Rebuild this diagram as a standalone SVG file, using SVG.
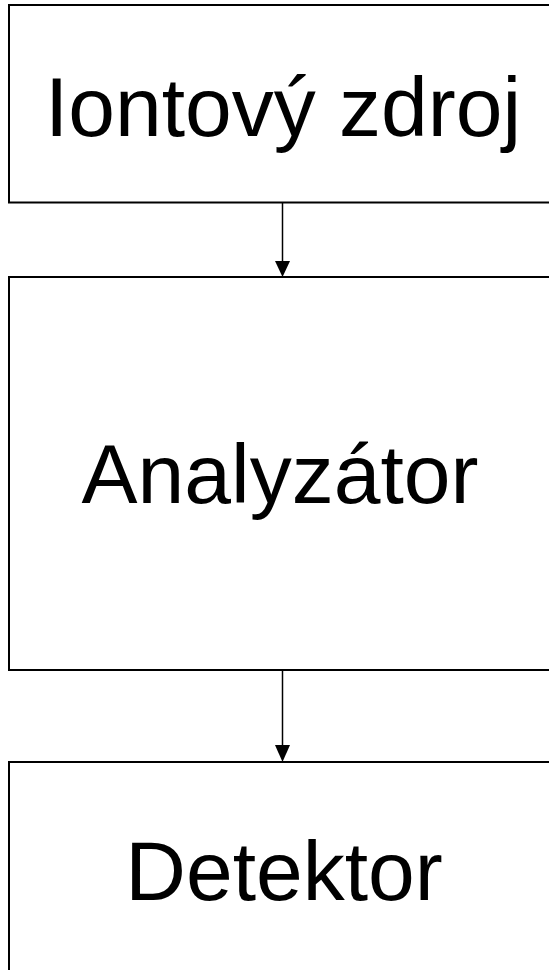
<svg xmlns="http://www.w3.org/2000/svg" width="549" height="970" viewBox="0 0 549 970">
<style>
.box{fill:#fff;stroke:#000;stroke-width:2}
.lbl{font-family:"Liberation Sans",Arial,sans-serif;font-size:84px;fill:#000;text-anchor:middle}
.conn{stroke:#000;stroke-width:1.5;fill:none}
.head{fill:#000}
</style>
<rect width="549" height="970" fill="#fff"/>
<g id="node-iontovy-zdroj">
<rect class="box" x="9" y="5" width="560" height="197.5"/>
<text class="lbl" x="283" y="136">Iontový zdroj</text>
</g>
<g id="node-analyzator">
<rect class="box" x="9" y="277" width="560" height="393"/>
<text class="lbl" x="280" y="503">Analyzátor</text>
</g>
<g id="node-detektor">
<rect class="box" x="9" y="762" width="560" height="230"/>
<text class="lbl" x="284" y="900">Detektor</text>
</g>
<g id="connectors">
<line class="conn" x1="282.5" y1="203" x2="282.5" y2="262"/>
<polygon class="head" points="275,261 290,261 282.5,277"/>
<line class="conn" x1="282.5" y1="671" x2="282.5" y2="746"/>
<polygon class="head" points="275,745 290,745 282.5,762"/>
</g>
</svg>
